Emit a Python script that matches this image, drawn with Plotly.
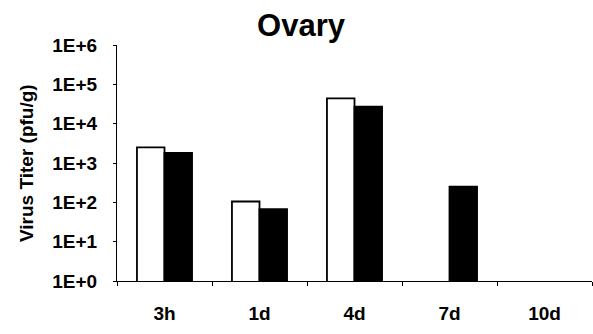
import plotly.graph_objects as go

# Time points after infection
categories = ["3h", "1d", "4d", "7d", "10d"]

# Virus titer in ovary tissue (pfu/g); None = below detection
open_series = [2500, 105, 44000, None, None]
filled_series = [1800, 67, 27000, 250, None]

y_tickvals = [1, 10, 100, 1000, 10000, 100000, 1000000]
y_ticktext = ["1E+0", "1E+1", "1E+2", "1E+3", "1E+4", "1E+5", "1E+6"]

FONT = "Liberation Sans, Arial, sans-serif"

fig = go.Figure()
fig.add_trace(go.Bar(
    x=categories, y=open_series, name="open",
    marker=dict(color="white", line=dict(color="black", width=1.8)),
))
fig.add_trace(go.Bar(
    x=categories, y=filled_series, name="filled",
    marker=dict(color="black", line=dict(color="black", width=1.8)),
))

fig.update_layout(
    width=593, height=334,
    margin=dict(l=117, r=1, t=45, b=53),
    paper_bgcolor="white", plot_bgcolor="white",
    barmode="group", bargap=0.42, bargroupgap=0,
    showlegend=False,
    font=dict(family=FONT, color="black"),
    title=dict(text="<b>Ovary</b>", x=(301 / 593), xanchor="center",
               y=1 - 36 / 334, yanchor="bottom",
               font=dict(size=31, family=FONT, color="black")),
)

fig.update_xaxes(
    type="category",
    showline=True, linecolor="black", linewidth=1.2,
    ticks="outside", ticklen=4, tickcolor="black", tickwidth=1,
    tickson="boundaries",
    ticklabelstandoff=15,
    tickfont=dict(size=19, family=FONT, color="black", weight="bold"),
    showgrid=False, zeroline=False,
)

fig.update_yaxes(
    type="log", range=[0, 6],
    tickvals=y_tickvals, ticktext=y_ticktext,
    showline=True, linecolor="black", linewidth=1.2,
    ticks="outside", ticklen=3, tickcolor="black", tickwidth=1,
    ticklabelstandoff=12,
    tickfont=dict(size=19, family=FONT, color="black", weight="bold"),
    showgrid=False, zeroline=False,
)

# Rotated y-axis title
fig.add_annotation(
    text="<b>Virus Titer (pfu/g)</b>", textangle=-90,
    xref="paper", yref="paper",
    x=(26 - 117) / 475, y=0.5, xanchor="center", yanchor="middle",
    showarrow=False,
    font=dict(size=19, family=FONT, color="black"),
)

fig.write_html("out.html")
